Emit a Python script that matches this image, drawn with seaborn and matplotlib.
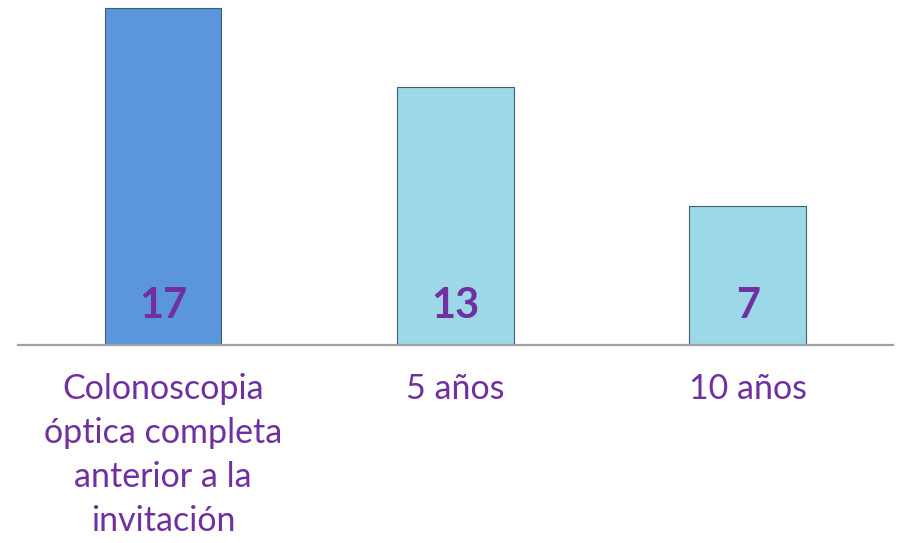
import matplotlib
matplotlib.use("Agg")
import matplotlib.pyplot as plt
import seaborn as sns

# --- datos ---
categorias = ["Colonoscopia\nóptica completa\nanterior a la\ninvitación", "5 años", "10 años"]
valores = [17, 13, 7]
colores = ["#5B96DD", "#9DD8E9", "#9DD8E9"]

MORADO = "#7030A0"

sns.set_style("white")
plt.rcParams["font.family"] = ["Lato", "DejaVu Sans"]

fig = plt.figure(figsize=(8.99, 5.43), dpi=100)
ax = fig.add_axes([0.02, 0.3646, 0.973, 0.6354])

sns.barplot(x=list(range(len(valores))), y=valores, hue=list(range(len(valores))),
            palette=colores, width=0.4, legend=False, ax=ax,
            edgecolor="#3F5F6F", linewidth=0.8, saturation=1)

ax.set_xlim(-0.496, 2.496)
ax.set_ylim(0, 17.4)

# etiquetas de valor dentro de la barra
for p, v in zip(ax.patches, valores):
    ax.text(p.get_x() + p.get_width() / 2, 1.95, str(v), ha="center", va="center",
            fontsize=30, fontweight="bold", color=MORADO)

ax.set_xticks(range(len(categorias)))
ax.set_xticklabels(categorias, fontsize=24.5, color=MORADO, linespacing=1.47)
ax.tick_params(axis="x", length=0, pad=20)
ax.set_yticks([])
ax.set_xlabel("")
ax.set_ylabel("")

for s in ["top", "right", "left"]:
    ax.spines[s].set_visible(False)
ax.spines["bottom"].set_color("#A0A0A0")
ax.spines["bottom"].set_linewidth(1.6)

fig.savefig("out.png", dpi=100)
